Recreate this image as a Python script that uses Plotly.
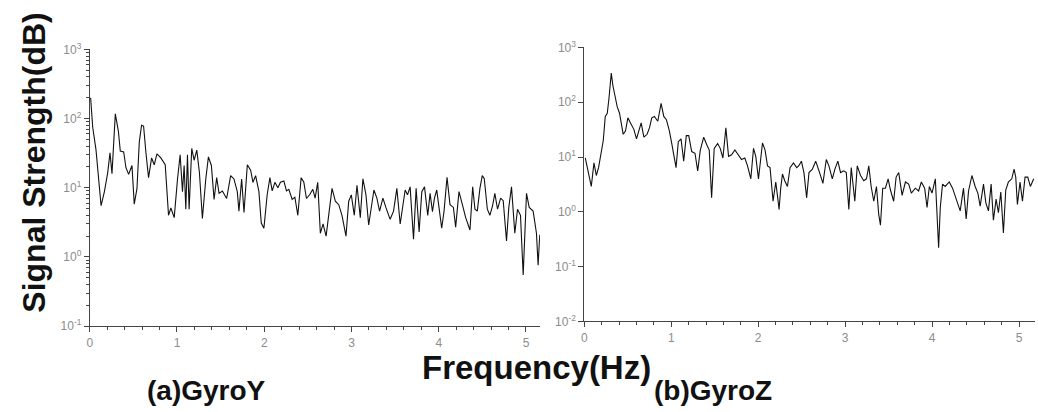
import plotly.graph_objects as go

# ---- data ----
freq_y = [0.01, 0.034, 0.072, 0.13, 0.168, 0.206, 0.232, 0.255, 0.293, 0.328, 0.35, 0.389, 0.415, 0.446, 0.484,
          0.51, 0.541, 0.568, 0.594, 0.617, 0.644, 0.674, 0.709, 0.739, 0.77, 0.815, 0.865, 0.903, 0.93, 0.968,
          1.006, 1.036, 1.063, 1.082, 1.101, 1.12, 1.139, 1.169, 1.196, 1.227, 1.257, 1.291, 1.33, 1.36, 1.394,
          1.425, 1.455, 1.482, 1.52, 1.569, 1.615, 1.653, 1.691, 1.71, 1.741, 1.768, 1.806, 1.844, 1.871, 1.901,
          1.939, 1.966, 1.996, 2.034, 2.065, 2.091, 2.122, 2.156, 2.186, 2.225, 2.255, 2.282, 2.32, 2.351, 2.385,
          2.423, 2.454, 2.484, 2.522, 2.557, 2.583, 2.613, 2.643, 2.674, 2.709, 2.739, 2.777, 2.815, 2.854, 2.891,
          2.937, 2.968, 2.998, 3.032, 3.063, 3.101, 3.131, 3.166, 3.197, 3.257, 3.291, 3.322, 3.36, 3.394, 3.443,
          3.482, 3.52, 3.558, 3.615, 3.642, 3.672, 3.711, 3.741, 3.775, 3.806, 3.837, 3.874, 3.901, 3.928, 3.951,
          3.977, 4.003, 4.034, 4.061, 4.095, 4.129, 4.168, 4.194, 4.232, 4.271, 4.309, 4.358, 4.389, 4.415, 4.442,
          4.472, 4.499, 4.522, 4.557, 4.586, 4.617, 4.643, 4.674, 4.709, 4.739, 4.777, 4.803, 4.834, 4.872, 4.903,
          4.937, 4.968, 5.006, 5.037, 5.082, 5.12, 5.139, 5.158]
gyro_y = [200, 75, 35, 5.5, 8.8, 16.6, 32, 16, 117, 66, 34, 33, 19.5, 15.6, 21,
          5.8, 9.7, 46, 80, 78, 32, 14, 27, 21.5, 31, 27, 21.5, 4, 5.1, 3.7,
          13.4, 30, 8.8, 21, 4.9, 30, 4.9, 37, 25, 35, 16.6, 3.6, 13.4, 28, 21,
          6.8, 14, 8.3, 9, 7, 15, 13.4, 8.8, 4.6, 13.4, 4.4, 21.5, 18, 12, 15,
          8.8, 3.1, 2.6, 8, 14, 9, 12, 10, 12, 12.5, 9, 9.5, 6.8, 7.3, 4,
          14, 12, 7, 8, 9.5, 7.1, 12, 2.2, 3.0, 2.0, 4.2, 9.8, 6.4, 5.7, 4.0,
          2.0, 6.4, 7.9, 4.0, 10.9, 3.7, 13.5, 7.9, 2.9, 9.3, 7.1, 4.6, 7.1, 5.2, 3.5,
          4.6, 9.8, 3.0, 9.3, 7.9, 10.3, 1.8, 9.8, 2.3, 8.8, 10.3, 4.0, 8.3, 4.5, 7.1,
          9.3, 5.2, 2.6, 4.6, 14.2, 5.7, 5.2, 2.7, 8.8, 5.7, 3.7, 2.45, 10.3, 4.9, 4.6,
          9.8, 15, 13.5, 4.9, 4.0, 5.5, 8.3, 4.9, 7.1, 6.5, 1.7, 5.2, 10.3, 2.2, 4.9,
          4.0, 0.55, 8.3, 5.2, 4.6, 2.2, 0.76, 2.1]

freq_z = [0.011, 0.042, 0.08, 0.111, 0.138, 0.164, 0.195, 0.218, 0.241, 0.264, 0.283, 0.31, 0.329, 0.356, 0.378,
          0.405, 0.424, 0.447, 0.474, 0.501, 0.531, 0.57, 0.6, 0.623, 0.654, 0.685, 0.722, 0.749, 0.776, 0.806,
          0.845, 0.883, 0.914, 0.944, 0.978, 1.006, 1.029, 1.055, 1.081, 1.112, 1.143, 1.173, 1.201, 1.235, 1.273,
          1.304, 1.334, 1.373, 1.411, 1.437, 1.464, 1.494, 1.533, 1.563, 1.594, 1.628, 1.659, 1.694, 1.732, 1.77,
          1.808, 1.846, 1.877, 1.915, 1.946, 1.972, 2.003, 2.049, 2.079, 2.107, 2.136, 2.171, 2.202, 2.221, 2.24,
          2.259, 2.279, 2.305, 2.336, 2.366, 2.405, 2.443, 2.469, 2.497, 2.526, 2.557, 2.584, 2.623, 2.661, 2.706,
          2.744, 2.783, 2.813, 2.852, 2.882, 2.916, 2.947, 2.985, 3.013, 3.042, 3.07, 3.093, 3.111, 3.139, 3.177,
          3.214, 3.245, 3.272, 3.299, 3.329, 3.36, 3.386, 3.406, 3.432, 3.463, 3.494, 3.521, 3.558, 3.586, 3.616,
          3.655, 3.693, 3.731, 3.761, 3.807, 3.845, 3.876, 3.914, 3.942, 3.968, 3.999, 4.037, 4.063, 4.075, 4.094,
          4.12, 4.151, 4.197, 4.235, 4.274, 4.323, 4.361, 4.392, 4.419, 4.458, 4.495, 4.526, 4.553, 4.591, 4.618,
          4.648, 4.679, 4.705, 4.736, 4.763, 4.79, 4.82, 4.847, 4.877, 4.916, 4.943, 4.962, 4.981, 5.011, 5.039,
          5.069, 5.1, 5.13, 5.169]
gyro_z = [9.6, 5.2, 2.9, 7.8, 4.6, 6.4, 11.7, 20, 55, 63, 116, 340, 200, 116, 83,
          63, 39, 26, 30, 52, 42, 32, 21.5, 30, 42, 23, 26, 34, 52, 55,
          45, 95, 55, 48, 30, 17.6, 10.3, 6.4, 19, 21.5, 8.4, 24.6, 24.6, 12.6, 11.7,
          5.6, 13.4, 23, 16.4, 13.4, 1.8, 14.4, 17.6, 14.4, 9.6, 34, 10.3, 11, 13.4, 11,
          9, 9.6, 6.9, 4, 14.4, 10.3, 4, 18, 13.4, 6.9, 6.4, 1.56, 3.5, 2.0, 1.1,
          2.7, 4.9, 3.7, 2.9, 6.4, 7.8, 6.4, 7, 8.4, 5.2, 1.8, 5.2, 6, 8.4, 5.2,
          3.3, 9, 6.9, 4, 6, 8.4, 5.2, 5.6, 5.2, 1.1, 6.4, 2.9, 1.56, 6.9, 4.6,
          3.7, 4, 6.9, 2.9, 1.56, 2.9, 0.9, 0.57, 2.7, 2.7, 4, 2.5, 1.56, 4.3, 5.2,
          2.0, 3.5, 3.2, 2.2, 2.7, 2.4, 3.5, 2.7, 1.2, 2.9, 2.2, 4, 0.46, 0.22, 1.2,
          3.2, 2.9, 3.5, 2.7, 1.7, 1.04, 2.7, 0.74, 2.4, 4.6, 2.9, 2.2, 1.27, 3.2, 1.46,
          1.04, 3.2, 0.7, 1.7, 0.96, 2.3, 0.41, 2.5, 3.5, 4, 6, 4.3, 1.36, 3.5, 1.56,
          4.3, 4.3, 2.9, 4]

x_ticks = [0, 1, 2, 3, 4, 5]
y_ticks_a = [0.1, 1, 10, 100, 1000]
y_labels_a = ["10<sup>-1</sup>", "10<sup>0</sup>", "10<sup>1</sup>", "10<sup>2</sup>", "10<sup>3</sup>"]
y_ticks_b = [0.01, 0.1, 1, 10, 100, 1000]
y_labels_b = ["10<sup>-2</sup>", "10<sup>-1</sup>", "10<sup>0</sup>", "10<sup>1</sup>", "10<sup>2</sup>", "10<sup>3</sup>"]

W, H = 1038, 412
FONT = "Liberation Sans, Arial, sans-serif"
tickfont = dict(family=FONT, size=12, color="#8c8c8c")

fig = go.Figure()
fig.add_trace(go.Scatter(x=freq_y, y=gyro_y, mode="lines", line=dict(color="#111", width=1.1),
                         xaxis="x", yaxis="y", showlegend=False))
fig.add_trace(go.Scatter(x=freq_z, y=gyro_z, mode="lines", line=dict(color="#111", width=1.1),
                         xaxis="x2", yaxis="y2", showlegend=False))

minor_log = [m * 10 ** k for k in range(-1, 3) for m in range(2, 10)]

axis_common = dict(showline=True, linecolor="#444", linewidth=1, ticks="outside", tickcolor="#444",
                   ticklen=5, showgrid=False, zeroline=False, tickfont=tickfont, mirror=False)

fig.update_layout(
    width=W, height=H, margin=dict(l=0, r=0, t=0, b=0),
    paper_bgcolor="white", plot_bgcolor="white",
    xaxis=dict(axis_common, domain=[87 / W, 538.5 / W], range=[0, 5.16], tickvals=x_ticks,
               minor=dict(ticks="outside", ticklen=3, dtick=0.2, tickcolor="#444"), anchor="y"),
    yaxis=dict(axis_common, type="log", domain=[(H - 330) / H, (H - 42) / H], range=[-1, 3],
               tickvals=y_ticks_a, ticktext=y_labels_a, anchor="x",
               minor=dict(ticks="outside", ticklen=3, tickvals=minor_log, tickcolor="#444")),
    xaxis2=dict(axis_common, domain=[583 / W, 1035 / W], range=[0, 452 / 87.2], tickvals=x_ticks,
                minor=dict(ticks="outside", ticklen=3, dtick=0.2, tickcolor="#444"), anchor="y2"),
    yaxis2=dict(axis_common, type="log", domain=[(H - 325) / H, (H - 40) / H], range=[-2, 3],
                tickvals=y_ticks_b, ticktext=y_labels_b, anchor="x2"),
    annotations=[
        dict(text="<b>Signal Strength(dB)</b>", x=31 / W, y=1 - 160 / H, xref="paper", yref="paper",
             xanchor="center", yanchor="middle",
             textangle=-90, showarrow=False, font=dict(family=FONT, size=32, color="#111")),
        dict(text="<b>Frequency(Hz)</b>", x=535 / W, y=1 - 373 / H, xref="paper", yref="paper",
             xanchor="center", yanchor="middle",
             showarrow=False, font=dict(family=FONT, size=33, color="#111")),
        dict(text="<b>(a)GyroY</b>", x=204 / W, y=1 - 397 / H, xref="paper", yref="paper",
             xanchor="center", yanchor="middle",
             showarrow=False, font=dict(family=FONT, size=28, color="#111")),
        dict(text="<b>(b)GyroZ</b>", x=712 / W, y=1 - 397 / H, xref="paper", yref="paper",
             xanchor="center", yanchor="middle",
             showarrow=False, font=dict(family=FONT, size=28, color="#111")),
    ],
)

fig.write_html("out.html")
